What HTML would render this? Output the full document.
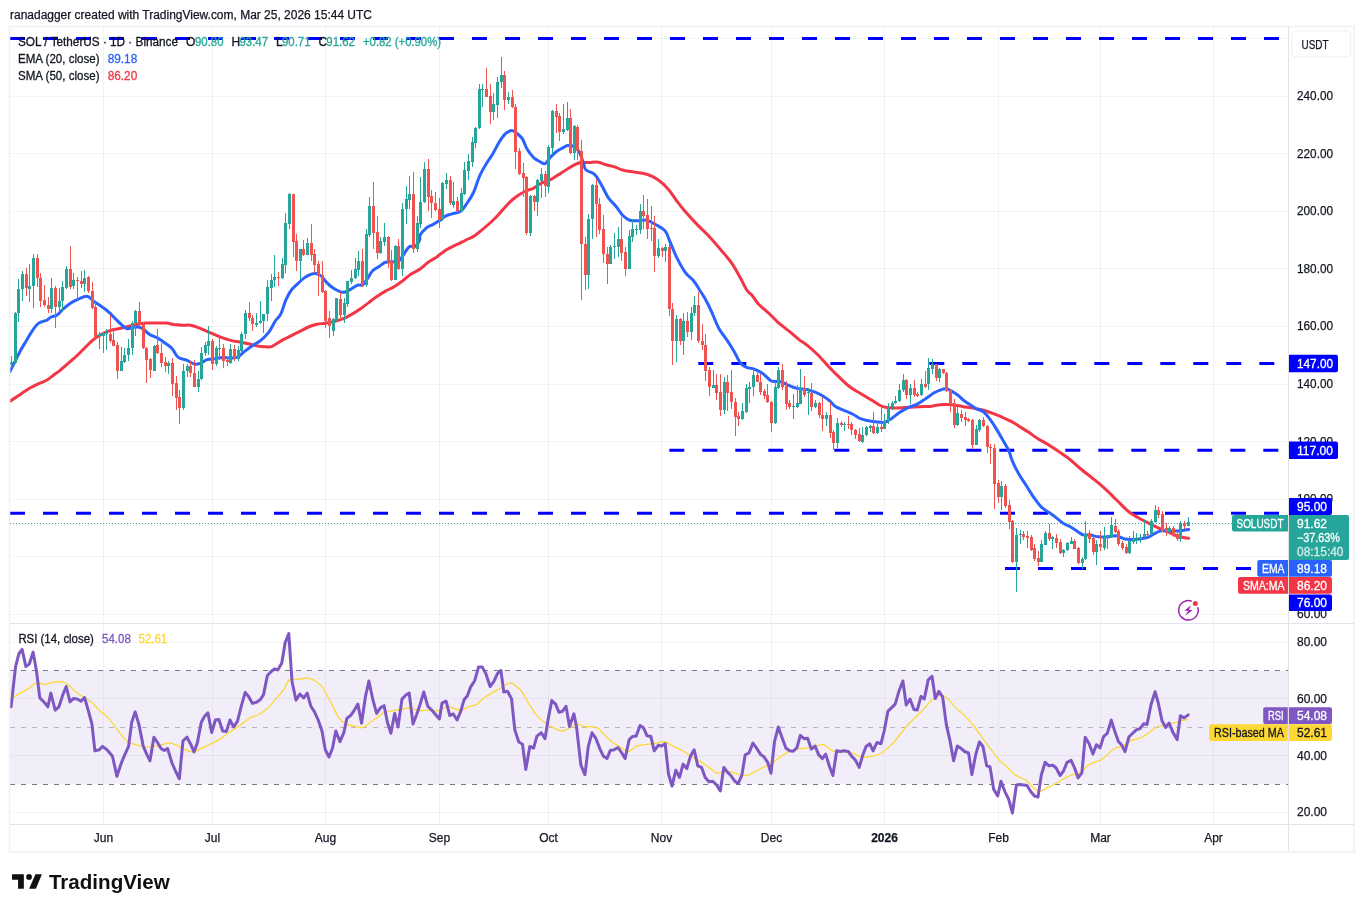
<!DOCTYPE html>
<html lang="en"><head><meta charset="utf-8"><title>SOLUSDT chart</title>
<style>
html,body{margin:0;padding:0;background:#fff;}
body{width:1364px;height:912px;overflow:hidden;font-family:"Liberation Sans", sans-serif;}
svg{display:block;position:absolute;left:0;top:0;}
svg text{font-family:"Liberation Sans", sans-serif;font-size:12px;fill:#131722;stroke:#131722;stroke-width:0.25px;}
.ax{font-size:12px;fill:#131722;}
.lb{font-size:12px;fill:#fff;}
</style></head><body>
<svg width="1364" height="912" viewBox="0 0 1364 912">

<rect x="0" y="0" width="1364" height="912" fill="#fff"/>
<text x="10" y="19" textLength="362" lengthAdjust="spacingAndGlyphs" style="font-size:12px">ranadagger created with TradingView.com, Mar 25, 2026 15:44 UTC</text>
<line x1="103.5" y1="27" x2="103.5" y2="824" stroke="#2a2e39" stroke-opacity="0.06" stroke-width="1"/>
<line x1="212.5" y1="27" x2="212.5" y2="824" stroke="#2a2e39" stroke-opacity="0.06" stroke-width="1"/>
<line x1="325.5" y1="27" x2="325.5" y2="824" stroke="#2a2e39" stroke-opacity="0.06" stroke-width="1"/>
<line x1="439.5" y1="27" x2="439.5" y2="824" stroke="#2a2e39" stroke-opacity="0.06" stroke-width="1"/>
<line x1="548.5" y1="27" x2="548.5" y2="824" stroke="#2a2e39" stroke-opacity="0.06" stroke-width="1"/>
<line x1="661.5" y1="27" x2="661.5" y2="824" stroke="#2a2e39" stroke-opacity="0.06" stroke-width="1"/>
<line x1="771.5" y1="27" x2="771.5" y2="824" stroke="#2a2e39" stroke-opacity="0.06" stroke-width="1"/>
<line x1="884.5" y1="27" x2="884.5" y2="824" stroke="#2a2e39" stroke-opacity="0.06" stroke-width="1"/>
<line x1="998.5" y1="27" x2="998.5" y2="824" stroke="#2a2e39" stroke-opacity="0.06" stroke-width="1"/>
<line x1="1100.5" y1="27" x2="1100.5" y2="824" stroke="#2a2e39" stroke-opacity="0.06" stroke-width="1"/>
<line x1="1213.5" y1="27" x2="1213.5" y2="824" stroke="#2a2e39" stroke-opacity="0.06" stroke-width="1"/>
<line x1="10" y1="614.5" x2="1289" y2="614.5" stroke="#2a2e39" stroke-opacity="0.06" stroke-width="1"/>
<line x1="10" y1="556.5" x2="1289" y2="556.5" stroke="#2a2e39" stroke-opacity="0.06" stroke-width="1"/>
<line x1="10" y1="499.5" x2="1289" y2="499.5" stroke="#2a2e39" stroke-opacity="0.06" stroke-width="1"/>
<line x1="10" y1="441.5" x2="1289" y2="441.5" stroke="#2a2e39" stroke-opacity="0.06" stroke-width="1"/>
<line x1="10" y1="384.5" x2="1289" y2="384.5" stroke="#2a2e39" stroke-opacity="0.06" stroke-width="1"/>
<line x1="10" y1="326.5" x2="1289" y2="326.5" stroke="#2a2e39" stroke-opacity="0.06" stroke-width="1"/>
<line x1="10" y1="268.5" x2="1289" y2="268.5" stroke="#2a2e39" stroke-opacity="0.06" stroke-width="1"/>
<line x1="10" y1="211.5" x2="1289" y2="211.5" stroke="#2a2e39" stroke-opacity="0.06" stroke-width="1"/>
<line x1="10" y1="153.5" x2="1289" y2="153.5" stroke="#2a2e39" stroke-opacity="0.06" stroke-width="1"/>
<line x1="10" y1="96.5" x2="1289" y2="96.5" stroke="#2a2e39" stroke-opacity="0.06" stroke-width="1"/>
<line x1="10" y1="38.5" x2="1289" y2="38.5" stroke="#2a2e39" stroke-opacity="0.06" stroke-width="1"/>
<line x1="10" y1="812.5" x2="1289" y2="812.5" stroke="#2a2e39" stroke-opacity="0.06" stroke-width="1"/>
<line x1="10" y1="755.5" x2="1289" y2="755.5" stroke="#2a2e39" stroke-opacity="0.06" stroke-width="1"/>
<line x1="10" y1="698.5" x2="1289" y2="698.5" stroke="#2a2e39" stroke-opacity="0.06" stroke-width="1"/>
<line x1="10" y1="642.5" x2="1289" y2="642.5" stroke="#2a2e39" stroke-opacity="0.06" stroke-width="1"/>
<rect x="10" y="670.5" width="1279" height="113.6" fill="#7e57c2" fill-opacity="0.1"/>
<defs><clipPath id="cm"><rect x="10" y="27" width="1279" height="596"/></clipPath><clipPath id="cr"><rect x="10" y="624" width="1279" height="200"/></clipPath><clipPath id="c70"><rect x="10" y="624" width="1279" height="46.5"/></clipPath><clipPath id="c30"><rect x="10" y="784.1" width="1279" height="39.9"/></clipPath><linearGradient id="gg" gradientUnits="userSpaceOnUse" x1="0" y1="585" x2="0" y2="670.5"><stop offset="0" stop-color="#4caf50" stop-opacity="0.45"/><stop offset="1" stop-color="#4caf50" stop-opacity="0"/></linearGradient><linearGradient id="gr" gradientUnits="userSpaceOnUse" x1="0" y1="784.5" x2="0" y2="870"><stop offset="0" stop-color="#ff5252" stop-opacity="0"/><stop offset="1" stop-color="#ff5252" stop-opacity="0.45"/></linearGradient></defs>
<g clip-path="url(#cm)">
<line x1="10" y1="38.5" x2="1289" y2="38.5" stroke="#0000ff" stroke-width="3" stroke-dasharray="15 18"/>
<line x1="698.3" y1="363.5" x2="1289" y2="363.5" stroke="#0000ff" stroke-width="3" stroke-dasharray="15 18"/>
<line x1="669.3" y1="450.3" x2="1289" y2="450.3" stroke="#0000ff" stroke-width="3" stroke-dasharray="15 18"/>
<line x1="10" y1="513.3" x2="1289" y2="513.3" stroke="#0000ff" stroke-width="3" stroke-dasharray="15 18"/>
<line x1="1005" y1="568.5" x2="1289" y2="568.5" stroke="#0000ff" stroke-width="3" stroke-dasharray="15 18"/>
<path d="M10.0 401.2C11.0 400.5 14.1 398.4 16.2 397.1C18.2 395.7 19.9 394.5 22.3 392.9C24.7 391.4 27.8 389.4 30.5 387.8C33.3 386.3 36.0 385.0 38.7 383.7C41.5 382.4 44.6 381.4 47.0 380.0C49.3 378.6 50.7 377.3 53.1 375.5C55.5 373.7 58.6 371.6 61.3 369.3C64.1 367.1 66.8 364.5 69.5 362.2C72.3 359.8 75.4 357.2 77.7 355.0C80.1 352.7 81.9 350.9 83.9 348.8C86.0 346.8 88.0 344.5 90.1 342.6C92.1 340.8 93.8 339.2 96.2 337.5C98.6 335.9 101.7 334.1 104.4 332.8C107.2 331.5 109.9 330.5 112.6 329.7C115.4 329.0 118.1 328.9 120.9 328.3C123.6 327.7 126.3 326.9 129.1 326.2C131.8 325.5 134.5 324.7 137.3 324.2C140.0 323.7 142.8 323.3 145.5 323.1C148.2 323.0 150.3 323.1 153.7 323.1C157.1 323.1 162.6 322.9 166.0 323.1C169.4 323.4 171.5 324.2 174.2 324.6C177.0 324.9 179.7 325.1 182.4 325.2C185.2 325.3 187.9 324.8 190.7 325.2C193.4 325.6 196.1 326.8 198.9 327.9C201.6 328.9 204.3 330.2 207.1 331.4C209.8 332.5 212.6 333.7 215.3 334.8C218.0 336.0 220.8 337.2 223.5 338.1C226.2 339.1 229.0 339.9 231.7 340.6C234.5 341.2 237.2 341.5 239.9 342.0C242.7 342.5 245.4 343.1 248.1 343.7C250.9 344.3 253.6 345.2 256.4 345.7C259.1 346.2 262.2 346.6 264.6 346.8C267.0 346.9 269.1 347.0 270.7 346.8C272.3 346.5 272.3 346.1 274.3 345.0C276.3 343.8 280.0 341.4 282.8 339.9C285.7 338.3 288.5 337.0 291.4 335.6C294.2 334.2 297.1 332.7 299.9 331.3C302.8 329.9 305.6 328.2 308.5 327.0C311.3 325.9 314.2 324.9 317.0 324.3C319.9 323.6 322.7 323.7 325.6 323.2C328.4 322.7 331.3 322.2 334.1 321.5C337.0 320.8 339.8 320.1 342.7 318.9C345.5 317.8 348.4 316.2 351.2 314.6C354.1 313.0 357.0 311.3 359.8 309.3C362.7 307.3 365.5 305.0 368.4 302.9C371.2 300.7 374.1 298.4 376.9 296.5C379.8 294.5 382.6 292.7 385.5 291.1C388.3 289.5 391.2 288.6 394.0 286.8C396.9 285.1 399.7 283.0 402.6 280.9C405.4 278.7 408.3 275.9 411.1 274.0C414.0 272.1 416.8 271.3 419.7 269.3C422.5 267.3 425.4 264.3 428.2 262.3C431.1 260.2 433.9 258.9 436.8 256.9C439.6 254.9 442.5 252.3 445.3 250.5C448.2 248.6 451.0 247.2 453.9 245.8C456.7 244.4 460.4 242.9 462.4 241.9C464.4 241.0 464.1 240.9 466.0 240.0C467.8 239.1 470.8 238.0 473.5 236.4C476.1 234.7 479.2 232.3 482.0 229.9C484.9 227.6 487.7 225.1 490.6 222.5C493.4 219.8 496.3 216.9 499.1 213.9C502.0 210.9 504.8 207.1 507.7 204.3C510.5 201.4 513.4 198.9 516.2 196.8C519.1 194.7 521.9 192.9 524.8 191.5C527.6 190.0 530.5 189.7 533.3 188.3C536.2 186.8 539.0 184.3 541.9 182.9C544.7 181.5 547.6 181.1 550.4 179.7C553.3 178.3 556.1 176.1 559.0 174.4C561.8 172.6 565.0 170.5 567.5 169.0C570.0 167.5 571.8 166.2 573.9 165.2C576.1 164.1 577.9 163.0 580.4 162.6C582.9 162.2 586.1 162.7 588.9 162.6C591.8 162.5 594.6 161.6 597.5 162.0C600.3 162.3 603.2 163.9 606.0 164.7C608.9 165.6 611.9 166.0 614.6 166.9C617.3 167.8 619.1 169.1 622.3 170.0C625.6 170.9 630.0 171.4 634.1 172.1C638.2 172.9 643.0 173.0 646.9 174.3C650.8 175.5 654.0 177.1 657.6 179.6C661.2 182.1 665.1 185.7 668.3 189.2C671.5 192.8 674.0 197.3 676.8 201.0C679.7 204.7 681.8 207.6 685.4 211.7C689.0 215.8 693.9 221.1 698.2 225.6C702.5 230.0 706.8 233.8 711.0 238.4C715.3 243.1 720.3 249.1 723.9 253.4C727.4 257.7 729.6 259.8 732.4 264.1C735.3 268.4 738.6 274.7 741.0 279.0C743.4 283.4 744.8 287.3 746.7 290.0C748.5 292.7 750.0 293.0 752.0 295.3C754.0 297.7 755.6 300.9 758.4 303.9C761.3 306.9 765.9 310.5 769.1 313.5C772.3 316.5 774.5 319.2 777.7 322.1C780.9 324.9 784.8 327.7 788.4 330.6C791.9 333.5 795.8 337.1 799.0 339.6C802.3 342.1 804.4 343.0 807.6 345.6C810.8 348.2 814.7 351.6 818.3 355.2C821.9 358.8 825.4 363.2 829.0 367.0C832.5 370.7 836.1 374.3 839.7 377.7C843.2 381.0 846.8 384.6 850.4 387.3C853.9 390.0 857.5 391.6 861.0 393.7C864.6 395.8 868.5 398.2 871.7 400.1C874.9 402.1 877.8 404.2 880.3 405.5C882.8 406.7 884.2 407.2 886.7 407.6C889.2 408.0 892.4 408.0 895.3 408.0C898.1 408.0 900.6 407.8 903.8 407.6C907.0 407.4 910.9 407.1 914.5 407.0C918.1 406.8 922.6 406.6 925.2 406.5C927.8 406.4 927.4 406.7 930.0 406.4C932.6 406.1 937.1 405.0 940.7 404.7C944.3 404.4 947.8 404.4 951.4 404.7C954.9 405.0 958.5 405.8 962.1 406.4C965.6 407.0 969.2 407.5 972.8 408.1C976.3 408.8 979.9 409.3 983.5 410.3C987.0 411.2 990.9 412.7 994.1 413.9C997.4 415.1 999.8 416.3 1002.7 417.5C1005.5 418.8 1008.4 419.8 1011.2 421.4C1014.1 422.9 1017.0 424.9 1019.8 426.7C1022.7 428.5 1025.5 430.2 1028.4 432.1C1031.2 434.0 1033.7 436.0 1036.9 438.1C1040.1 440.1 1044.0 442.0 1047.6 444.3C1051.2 446.5 1054.7 448.9 1058.3 451.3C1061.9 453.7 1065.4 456.0 1069.0 458.8C1072.5 461.6 1076.1 465.0 1079.7 468.0C1083.2 471.0 1086.8 473.7 1090.4 476.5C1093.9 479.4 1097.5 482.0 1101.0 485.1C1104.6 488.2 1108.5 492.0 1111.7 495.1C1114.9 498.2 1117.4 500.9 1120.3 503.7C1123.1 506.5 1126.0 509.6 1128.8 511.8C1131.7 514.1 1134.5 515.5 1137.4 517.2C1140.2 518.8 1143.1 520.4 1146.0 521.9C1148.8 523.4 1151.7 524.8 1154.5 526.1C1157.4 527.5 1160.2 528.5 1163.1 529.8C1165.9 531.0 1168.8 532.5 1171.6 533.6C1174.5 534.8 1177.3 536.1 1180.2 536.8C1183.0 537.6 1187.3 538.1 1188.7 538.3" stroke="#f23645" stroke-width="3" fill="none" stroke-linejoin="round" stroke-linecap="round"/>
<path d="M10.0 371.4C10.7 370.0 12.4 366.6 14.1 363.2C15.8 359.8 18.2 354.6 20.3 350.9C22.3 347.1 24.4 344.0 26.4 340.6C28.5 337.2 30.5 333.2 32.6 330.3C34.6 327.4 36.3 324.9 38.7 323.1C41.1 321.4 44.9 321.1 47.0 320.1C49.0 319.0 49.3 317.8 51.1 317.0C52.8 316.1 55.2 316.3 57.2 314.9C59.3 313.6 61.0 310.8 63.4 308.8C65.8 306.7 68.9 304.3 71.6 302.6C74.3 300.9 77.6 299.5 79.8 298.5C82.0 297.5 83.4 296.7 84.9 296.5C86.5 296.2 87.5 296.2 89.0 297.1C90.6 297.9 92.3 300.2 94.2 301.6C96.1 303.0 97.9 304.0 100.3 305.7C102.7 307.4 106.1 309.8 108.5 311.9C110.9 313.9 112.6 316.0 114.7 318.0C116.8 320.1 118.8 322.4 120.9 324.2C122.9 326.0 125.0 328.2 127.0 328.7C129.1 329.2 131.1 327.5 133.2 327.3C135.2 327.0 137.6 326.9 139.3 327.3C141.0 327.6 141.7 328.1 143.4 329.3C145.2 330.5 147.2 333.0 149.6 334.4C152.0 335.9 155.1 336.6 157.8 338.1C160.6 339.7 163.6 341.9 166.0 343.7C168.4 345.5 170.1 346.5 172.2 348.8C174.2 351.1 175.9 355.5 178.3 357.4C180.7 359.3 183.8 359.0 186.6 360.1C189.3 361.2 192.4 363.7 194.8 364.2C197.2 364.7 198.9 363.9 200.9 363.2C203.0 362.4 204.7 360.5 207.1 359.7C209.5 358.9 212.6 358.8 215.3 358.5C218.0 358.1 220.8 357.7 223.5 357.6C226.2 357.6 229.3 358.1 231.7 358.0C234.1 357.9 235.8 358.0 237.9 357.0C239.9 356.0 241.6 353.8 244.0 351.9C246.4 350.0 249.5 347.6 252.3 345.7C255.0 343.8 257.7 342.8 260.5 340.6C263.2 338.4 266.2 335.6 268.7 332.4C271.2 329.1 273.3 324.1 275.3 321.0C277.3 318.0 278.9 317.8 280.7 314.2C282.5 310.6 284.3 303.7 286.0 299.7C287.8 295.6 289.4 292.7 291.4 290.0C293.3 287.4 295.7 285.7 297.8 283.6C299.9 281.6 302.1 279.4 304.2 277.9C306.3 276.3 308.7 275.2 310.6 274.4C312.6 273.7 314.2 273.3 316.0 273.6C317.8 273.9 319.5 274.7 321.3 276.1C323.1 277.6 324.7 280.6 326.7 282.6C328.6 284.5 330.8 286.4 333.1 287.9C335.4 289.4 338.6 291.0 340.6 291.8C342.5 292.5 343.1 292.6 344.8 292.2C346.6 291.7 349.1 290.2 351.2 289.0C353.4 287.8 355.7 285.8 357.7 285.1C359.6 284.4 361.2 286.0 363.0 284.7C364.8 283.4 366.8 279.5 368.4 277.2C370.0 274.9 370.8 272.6 372.6 270.8C374.4 269.0 376.9 268.0 379.0 266.5C381.2 265.1 383.3 263.0 385.5 262.3C387.6 261.5 389.7 262.0 391.9 261.8C394.0 261.6 396.3 262.4 398.3 261.2C400.2 260.0 401.9 257.2 403.6 254.8C405.4 252.4 407.0 248.3 409.0 246.9C410.9 245.4 413.6 247.4 415.4 246.2C417.2 245.0 418.9 241.6 419.7 239.8C420.4 238.0 418.9 237.3 420.0 235.3C421.1 233.3 424.3 229.6 426.4 227.8C428.6 226.0 430.7 225.8 432.8 224.6C435.0 223.4 437.1 222.2 439.2 220.8C441.4 219.3 443.5 217.2 445.7 216.0C447.8 214.9 449.6 214.7 452.1 213.9C454.6 213.1 458.1 213.1 460.6 211.3C463.1 209.6 464.9 206.4 467.0 203.2C469.2 200.1 471.3 197.2 473.5 192.5C475.6 187.9 477.7 180.2 479.9 175.4C482.0 170.6 484.1 167.2 486.3 163.7C488.4 160.1 490.6 157.6 492.7 154.0C494.8 150.5 497.0 145.7 499.1 142.3C501.2 138.9 503.4 135.7 505.5 133.7C507.7 131.8 510.0 130.5 511.9 130.5C513.9 130.5 515.5 132.3 517.3 133.7C519.1 135.2 521.0 136.6 522.6 139.1C524.2 141.6 525.1 145.7 526.9 148.7C528.7 151.7 531.2 155.1 533.3 157.3C535.5 159.4 537.8 160.5 539.7 161.5C541.7 162.6 543.3 164.4 545.1 163.7C546.9 163.0 548.5 159.3 550.4 157.3C552.4 155.2 554.7 152.9 556.8 151.3C559.0 149.7 561.5 148.6 563.3 147.6C565.0 146.7 565.7 145.7 567.5 145.5C569.3 145.3 572.0 145.5 573.9 146.6C575.9 147.6 577.7 149.1 579.3 151.9C580.9 154.8 582.5 160.7 583.6 163.7C584.7 166.7 584.1 168.2 586.0 170.0C587.8 171.8 592.0 172.0 594.5 174.3C597.0 176.6 598.6 180.0 600.9 183.9C603.3 187.8 605.9 194.1 608.4 197.8C610.9 201.5 613.4 203.3 615.9 206.3C618.4 209.4 621.1 213.7 623.4 216.0C625.7 218.3 627.3 219.5 629.8 220.2C632.3 221.0 635.5 220.7 638.4 220.7C641.2 220.7 644.1 219.6 646.9 220.2C649.8 220.9 652.4 222.7 655.5 224.5C658.5 226.3 662.6 227.9 665.1 230.9C667.6 234.0 668.5 238.2 670.4 242.7C672.4 247.2 674.3 252.7 676.8 257.7C679.3 262.7 682.5 268.7 685.4 272.6C688.2 276.5 691.6 278.3 693.9 281.2C696.3 284.1 697.8 287.1 699.6 290.0C701.5 292.9 703.0 295.0 705.0 298.6C706.9 302.1 709.1 306.4 711.4 311.4C713.7 316.4 716.4 323.9 718.9 328.5C721.4 333.1 723.9 335.4 726.3 339.2C728.8 342.9 731.5 347.0 733.8 350.9C736.1 354.9 738.1 360.0 740.2 362.7C742.4 365.4 744.3 366.3 746.7 367.4C749.0 368.5 751.5 368.1 754.1 369.1C756.8 370.1 759.8 371.4 762.7 373.4C765.5 375.3 768.4 379.5 771.2 380.9C774.1 382.2 777.0 380.8 779.8 381.5C782.7 382.2 785.5 384.0 788.4 385.1C791.2 386.3 793.9 387.6 796.9 388.4C799.9 389.1 803.5 388.8 806.5 389.4C809.6 390.1 812.2 391.0 815.1 392.2C817.9 393.4 821.1 395.0 823.6 396.5C826.1 398.0 828.1 399.5 830.0 401.2C832.0 402.9 833.1 405.0 835.4 406.5C837.7 408.1 841.1 409.1 843.9 410.4C846.8 411.6 849.6 412.6 852.5 414.0C855.3 415.4 858.2 417.8 861.0 418.9C863.9 420.1 866.8 420.3 869.6 420.9C872.5 421.4 875.7 421.9 878.2 422.1C880.6 422.3 882.4 422.7 884.6 422.1C886.7 421.6 888.5 420.5 891.0 418.9C893.5 417.3 896.7 414.4 899.5 412.5C902.4 410.6 905.2 409.0 908.1 407.6C910.9 406.2 913.8 405.8 916.6 404.4C919.5 403.0 922.3 400.9 925.2 399.0C928.0 397.2 931.3 394.6 933.7 393.1C936.2 391.6 938.2 390.8 940.2 390.1C942.1 389.4 943.9 388.8 945.5 388.8C947.1 388.8 947.8 389.1 949.8 390.1C951.7 391.1 955.0 393.1 957.3 394.8C959.5 396.4 961.1 398.4 963.1 400.0C965.2 401.6 967.4 402.9 969.6 404.3C971.7 405.7 973.7 407.3 976.0 408.6C978.3 409.8 981.1 410.0 983.5 411.8C985.8 413.5 987.7 416.4 989.9 419.2C992.0 422.1 994.0 425.1 996.3 428.9C998.6 432.6 1001.6 438.0 1003.8 441.7C1005.9 445.4 1007.7 448.1 1009.1 451.3C1010.5 454.5 1010.7 457.2 1012.3 460.9C1013.9 464.7 1016.4 469.7 1018.7 473.8C1021.0 477.9 1023.7 481.6 1026.2 485.5C1028.7 489.4 1031.2 493.7 1033.7 497.3C1036.2 500.8 1038.7 504.4 1041.2 506.9C1043.7 509.4 1046.2 510.5 1048.7 512.3C1051.2 514.0 1053.7 515.7 1056.1 517.6C1058.6 519.5 1061.1 522.0 1063.6 523.6C1066.1 525.2 1068.8 525.9 1071.1 527.2C1073.4 528.5 1075.6 530.2 1077.5 531.5C1079.5 532.7 1080.7 534.1 1082.9 534.7C1085.0 535.3 1087.7 534.8 1090.4 535.1C1093.0 535.5 1096.1 536.6 1098.9 536.8C1101.8 537.1 1104.6 537.0 1107.5 536.8C1110.3 536.7 1113.2 535.4 1116.0 535.8C1118.9 536.1 1121.7 538.4 1124.6 539.0C1127.4 539.6 1130.3 539.5 1133.1 539.4C1136.0 539.3 1139.2 538.9 1141.7 538.6C1144.2 538.2 1146.0 538.1 1148.1 537.3C1150.2 536.4 1152.4 534.7 1154.5 533.6C1156.6 532.6 1158.8 531.3 1160.9 530.9C1163.1 530.4 1164.8 530.9 1167.3 530.9C1169.8 530.9 1173.4 530.9 1175.9 530.9C1178.4 530.8 1180.2 530.7 1182.3 530.4C1184.4 530.2 1187.6 529.5 1188.7 529.4" stroke="#2962ff" stroke-width="3" fill="none" stroke-linejoin="round" stroke-linecap="round"/>
<path d="M11.5 356V368M15.5 312V364M18.5 279V322M22.5 271V301M29.5 264V302M33.5 254V308M51.5 278V313M59.5 288V312M62.5 281V311M66.5 266V289M73.5 273V289M84.5 270V292M99.5 332V349M103.5 332V353M106.5 329V350M121.5 347V371M124.5 348V363M128.5 339V361M132.5 321V355M135.5 310V336M154.5 345V371M168.5 361V374M183.5 364V410M187.5 364V377M198.5 371V392M201.5 347V380M205.5 342V356M208.5 326V355M216.5 346V366M219.5 336V360M230.5 344V364M238.5 346V361M241.5 332V353M245.5 310V339M256.5 313V327M260.5 301V324M263.5 314V333M267.5 280V321M271.5 274V301M274.5 255V287M282.5 258V279M285.5 213V273M289.5 193V229M300.5 249V280M307.5 238V255M333.5 318V336M336.5 298V321M344.5 298V323M347.5 281V307M351.5 270V284M355.5 258V279M358.5 251V276M366.5 229V287M369.5 197V237M380.5 237V254M384.5 223V246M395.5 245V280M402.5 203V276M406.5 186V224M409.5 176V209M417.5 216V252M420.5 177V228M424.5 162V203M442.5 182V221M446.5 173V189M453.5 182V208M461.5 188V212M464.5 162V195M468.5 154V180M472.5 137V167M475.5 127V148M479.5 84V129M482.5 84V107M493.5 93V120M497.5 77V118M501.5 57V88M508.5 92V104M530.5 195V236M537.5 179V216M541.5 168V198M548.5 145V193M552.5 110V154M563.5 104V134M567.5 102V131M574.5 125V160M588.5 214V289M592.5 184V239M610.5 245V264M614.5 233V259M618.5 227V257M629.5 230V269M632.5 219V242M636.5 225V235M640.5 204V234M658.5 239V258M665.5 244V262M676.5 315V362M683.5 313V355M691.5 307V340M694.5 296V316M713.5 370V388M724.5 377V414M742.5 403V420M746.5 384V413M749.5 382V403M753.5 369V396M775.5 381V424M778.5 367V389M793.5 394V419M797.5 385V408M800.5 369V404M808.5 388V415M815.5 400V408M826.5 412V426M837.5 418V448M844.5 422V431M862.5 427V443M866.5 426V436M870.5 425V432M877.5 422V434M884.5 414V429M888.5 403V424M892.5 401V410M895.5 396V404M899.5 384V402M903.5 374V392M910.5 384V404M921.5 379V396M928.5 358V390M932.5 359V374M939.5 368V382M957.5 407V426M976.5 425V445M979.5 419V432M1001.5 481V510M1016.5 528V592M1020.5 530V544M1041.5 540V562M1045.5 531V545M1052.5 536V549M1063.5 549V557M1067.5 542V551M1071.5 537V544M1082.5 557V569M1085.5 521V560M1096.5 540V565M1104.5 527V550M1107.5 535V549M1111.5 517V538M1129.5 536V554M1133.5 531V544M1136.5 533V544M1140.5 534V543M1144.5 520V538M1151.5 519V535M1155.5 505V523M1169.5 526V534M1180.5 521V542M1188.5 517V526" stroke="#26a69a" stroke-width="1" fill="none"/>
<path d="M26.5 268V296M37.5 254V287M40.5 273V307M44.5 285V307M48.5 297V313M55.5 286V328M70.5 246V289M77.5 277V300M81.5 271V288M88.5 276V293M92.5 282V309M95.5 302V339M110.5 315V343M113.5 330V346M117.5 342V379M139.5 302V326M143.5 322V349M146.5 347V383M150.5 358V378M157.5 329V354M161.5 343V367M165.5 357V372M172.5 358V396M176.5 376V410M179.5 390V424M190.5 361V377M194.5 360V387M212.5 339V370M223.5 344V368M227.5 357V366M234.5 345V361M249.5 302V321M252.5 315V331M278.5 272V286M293.5 194V257M296.5 234V271M303.5 240V256M311.5 224V261M314.5 249V273M318.5 261V296M322.5 261V293M325.5 290V328M329.5 311V338M340.5 292V321M362.5 249V287M373.5 182V249M377.5 216V259M388.5 236V268M391.5 250V281M398.5 239V270M413.5 172V253M428.5 159V211M431.5 190V218M435.5 192V211M439.5 198V228M450.5 176V205M457.5 197V213M486.5 68V97M490.5 84V124M504.5 71V110M512.5 90V108M515.5 104V169M519.5 148V175M523.5 163V197M526.5 176V235M534.5 195V211M545.5 171V197M556.5 104V133M559.5 113V141M570.5 109V154M577.5 125V160M581.5 140V300M585.5 237V290M596.5 179V237M599.5 198V234M603.5 215V263M607.5 247V284M621.5 217V261M625.5 247V276M643.5 195V229M647.5 199V239M651.5 206V241M654.5 216V272M662.5 247V257M669.5 243V316M672.5 303V365M680.5 318V345M687.5 312V337M698.5 292V343M702.5 324V350M705.5 334V381M709.5 367V396M716.5 374V400M720.5 374V416M727.5 375V411M731.5 370V409M735.5 398V436M738.5 412V426M757.5 371V382M760.5 374V395M764.5 389V399M767.5 384V403M771.5 401V432M782.5 364V390M786.5 381V410M789.5 400V409M804.5 376V397M811.5 383V411M819.5 402V418M822.5 397V431M830.5 402V438M833.5 430V450M841.5 421V427M848.5 416V429M851.5 422V435M855.5 429V439M859.5 428V442M873.5 412V434M881.5 407V432M906.5 379V399M914.5 380V397M917.5 392V397M925.5 371V388M936.5 364V381M943.5 369V374M946.5 372V392M950.5 389V412M954.5 399V428M961.5 410V422M965.5 412V426M968.5 418V422M972.5 419V449M983.5 417V427M987.5 425V453M990.5 444V464M994.5 444V509M998.5 480V503M1005.5 484V508M1009.5 500V529M1012.5 520V563M1023.5 531V540M1027.5 531V548M1031.5 535V551M1034.5 544V561M1038.5 551V566M1049.5 524V541M1056.5 534V548M1060.5 539V554M1074.5 539V549M1078.5 547V564M1089.5 530V543M1093.5 537V555M1100.5 531V551M1115.5 519V533M1118.5 529V546M1122.5 541V550M1126.5 544V554M1147.5 531V537M1158.5 507V518M1162.5 511V532M1166.5 523V536M1173.5 526V537M1177.5 531V541M1184.5 521V529" stroke="#ef5350" stroke-width="1" fill="none"/>
<path d="M10 362h3V365h-3ZM14 313h3V363h-3ZM17 289h3V313h-3ZM21 274h3V289h-3ZM28 286h3V289h-3ZM32 258h3V286h-3ZM50 288h3V309h-3ZM58 301h3V307h-3ZM61 287h3V301h-3ZM65 269h3V288h-3ZM72 280h3V286h-3ZM83 278h3V284h-3ZM98 334h3V336h-3ZM102 333h3V336h-3ZM105 333h3V334h-3ZM120 361h3V371h-3ZM123 355h3V362h-3ZM127 348h3V355h-3ZM131 323h3V348h-3ZM134 311h3V323h-3ZM153 346h3V371h-3ZM167 363h3V366h-3ZM182 371h3V408h-3ZM186 366h3V371h-3ZM197 379h3V387h-3ZM200 353h3V379h-3ZM204 345h3V353h-3ZM207 341h3V346h-3ZM215 348h3V364h-3ZM218 348h3V349h-3ZM229 349h3V363h-3ZM237 350h3V359h-3ZM240 334h3V351h-3ZM244 313h3V334h-3ZM255 323h3V325h-3ZM259 321h3V323h-3ZM262 314h3V321h-3ZM266 287h3V314h-3ZM270 280h3V288h-3ZM273 277h3V280h-3ZM281 264h3V278h-3ZM284 223h3V265h-3ZM288 194h3V224h-3ZM299 249h3V261h-3ZM306 243h3V255h-3ZM332 319h3V331h-3ZM335 298h3V320h-3ZM343 303h3V315h-3ZM346 281h3V304h-3ZM350 278h3V282h-3ZM354 269h3V278h-3ZM357 261h3V270h-3ZM365 234h3V285h-3ZM368 206h3V235h-3ZM379 241h3V253h-3ZM383 237h3V242h-3ZM394 246h3V280h-3ZM401 209h3V269h-3ZM405 199h3V209h-3ZM408 194h3V200h-3ZM416 223h3V249h-3ZM419 202h3V224h-3ZM423 169h3V202h-3ZM441 183h3V219h-3ZM445 180h3V184h-3ZM452 201h3V205h-3ZM460 193h3V211h-3ZM463 170h3V194h-3ZM467 161h3V171h-3ZM471 142h3V162h-3ZM474 128h3V143h-3ZM478 89h3V128h-3ZM481 89h3V90h-3ZM492 104h3V112h-3ZM496 82h3V105h-3ZM500 75h3V82h-3ZM507 97h3V100h-3ZM529 196h3V233h-3ZM536 180h3V202h-3ZM540 174h3V181h-3ZM547 147h3V187h-3ZM551 111h3V148h-3ZM562 129h3V132h-3ZM566 118h3V130h-3ZM573 126h3V153h-3ZM587 219h3V275h-3ZM591 185h3V219h-3ZM609 247h3V264h-3ZM613 246h3V247h-3ZM617 239h3V247h-3ZM628 236h3V269h-3ZM631 229h3V237h-3ZM635 229h3V230h-3ZM639 211h3V230h-3ZM657 248h3V256h-3ZM664 247h3V251h-3ZM675 319h3V341h-3ZM682 321h3V341h-3ZM690 313h3V332h-3ZM693 305h3V313h-3ZM712 385h3V388h-3ZM723 382h3V410h-3ZM741 411h3V419h-3ZM745 388h3V412h-3ZM748 387h3V389h-3ZM752 375h3V387h-3ZM774 387h3V423h-3ZM777 370h3V388h-3ZM792 406h3V407h-3ZM796 403h3V407h-3ZM799 388h3V404h-3ZM807 392h3V393h-3ZM814 403h3V407h-3ZM825 415h3V419h-3ZM836 423h3V443h-3ZM843 424h3V425h-3ZM861 435h3V442h-3ZM865 427h3V435h-3ZM869 426h3V428h-3ZM876 427h3V433h-3ZM883 421h3V429h-3ZM887 407h3V421h-3ZM891 403h3V407h-3ZM894 401h3V403h-3ZM898 390h3V401h-3ZM902 380h3V390h-3ZM909 388h3V395h-3ZM920 384h3V395h-3ZM927 368h3V384h-3ZM931 364h3V369h-3ZM938 369h3V378h-3ZM956 413h3V425h-3ZM975 429h3V445h-3ZM978 420h3V430h-3ZM1000 486h3V497h-3ZM1015 535h3V562h-3ZM1019 534h3V535h-3ZM1040 544h3V562h-3ZM1044 533h3V545h-3ZM1051 537h3V539h-3ZM1062 550h3V553h-3ZM1066 543h3V550h-3ZM1070 541h3V544h-3ZM1081 559h3V563h-3ZM1084 534h3V559h-3ZM1095 544h3V552h-3ZM1103 537h3V548h-3ZM1106 536h3V537h-3ZM1110 525h3V537h-3ZM1128 541h3V553h-3ZM1132 539h3V542h-3ZM1135 538h3V539h-3ZM1139 537h3V539h-3ZM1143 534h3V537h-3ZM1150 521h3V534h-3ZM1154 510h3V522h-3ZM1168 528h3V532h-3ZM1179 523h3V539h-3ZM1187 522h3V526h-3Z" fill="#26a69a"/>
<path d="M25 274h3V288h-3ZM36 258h3V278h-3ZM39 278h3V301h-3ZM43 300h3V305h-3ZM47 305h3V309h-3ZM54 288h3V307h-3ZM69 269h3V287h-3ZM76 280h3V281h-3ZM80 281h3V284h-3ZM87 277h3V291h-3ZM91 291h3V308h-3ZM94 307h3V338h-3ZM109 334h3V341h-3ZM112 340h3V346h-3ZM116 345h3V371h-3ZM138 311h3V324h-3ZM142 324h3V348h-3ZM145 348h3V360h-3ZM149 359h3V370h-3ZM156 345h3V353h-3ZM160 353h3V363h-3ZM164 362h3V366h-3ZM171 363h3V384h-3ZM175 383h3V398h-3ZM178 397h3V408h-3ZM189 366h3V373h-3ZM193 373h3V387h-3ZM211 341h3V364h-3ZM222 348h3V361h-3ZM226 360h3V362h-3ZM233 349h3V359h-3ZM248 313h3V318h-3ZM251 318h3V324h-3ZM277 277h3V278h-3ZM292 194h3V242h-3ZM295 241h3V261h-3ZM302 249h3V255h-3ZM310 243h3V255h-3ZM313 254h3V265h-3ZM317 264h3V276h-3ZM321 275h3V292h-3ZM324 291h3V321h-3ZM328 318h3V326h-3ZM339 299h3V315h-3ZM361 261h3V285h-3ZM372 206h3V233h-3ZM376 232h3V253h-3ZM387 237h3V262h-3ZM390 261h3V280h-3ZM397 246h3V269h-3ZM412 194h3V249h-3ZM427 169h3V197h-3ZM430 196h3V203h-3ZM434 203h3V210h-3ZM438 209h3V220h-3ZM449 180h3V203h-3ZM456 201h3V211h-3ZM485 89h3V97h-3ZM489 96h3V112h-3ZM503 75h3V100h-3ZM511 97h3V107h-3ZM514 107h3V152h-3ZM518 151h3V174h-3ZM522 173h3V178h-3ZM525 177h3V233h-3ZM533 196h3V202h-3ZM544 174h3V186h-3ZM555 111h3V117h-3ZM558 116h3V132h-3ZM569 118h3V153h-3ZM576 127h3V151h-3ZM580 151h3V244h-3ZM584 244h3V275h-3ZM595 185h3V204h-3ZM598 204h3V230h-3ZM602 229h3V254h-3ZM606 254h3V264h-3ZM620 239h3V253h-3ZM624 252h3V269h-3ZM642 211h3V216h-3ZM646 215h3V229h-3ZM650 228h3V229h-3ZM653 228h3V256h-3ZM661 248h3V251h-3ZM668 247h3V309h-3ZM671 309h3V341h-3ZM679 319h3V341h-3ZM686 321h3V332h-3ZM697 305h3V341h-3ZM701 341h3V345h-3ZM704 345h3V371h-3ZM708 370h3V387h-3ZM715 385h3V393h-3ZM719 392h3V410h-3ZM726 382h3V393h-3ZM730 392h3V402h-3ZM734 402h3V417h-3ZM737 416h3V419h-3ZM756 375h3V382h-3ZM759 382h3V392h-3ZM763 391h3V396h-3ZM766 395h3V402h-3ZM770 402h3V423h-3ZM781 370h3V387h-3ZM785 386h3V404h-3ZM788 403h3V407h-3ZM803 388h3V395h-3ZM810 393h3V407h-3ZM818 403h3V415h-3ZM821 415h3V419h-3ZM829 415h3V433h-3ZM832 432h3V443h-3ZM840 423h3V425h-3ZM847 424h3V425h-3ZM850 424h3V430h-3ZM854 430h3V435h-3ZM858 434h3V441h-3ZM872 426h3V433h-3ZM880 427h3V429h-3ZM905 380h3V395h-3ZM913 388h3V395h-3ZM916 394h3V396h-3ZM924 384h3V387h-3ZM935 364h3V378h-3ZM942 369h3V373h-3ZM945 373h3V391h-3ZM949 390h3V404h-3ZM953 403h3V425h-3ZM960 414h3V418h-3ZM964 417h3V420h-3ZM967 419h3V421h-3ZM971 420h3V445h-3ZM982 420h3V426h-3ZM986 426h3V447h-3ZM989 447h3V448h-3ZM993 448h3V484h-3ZM997 483h3V497h-3ZM1004 486h3V506h-3ZM1008 505h3V522h-3ZM1011 521h3V562h-3ZM1022 534h3V537h-3ZM1026 536h3V538h-3ZM1030 537h3V550h-3ZM1033 548h3V559h-3ZM1037 558h3V562h-3ZM1048 533h3V539h-3ZM1055 538h3V543h-3ZM1059 542h3V553h-3ZM1073 541h3V549h-3ZM1077 548h3V563h-3ZM1088 533h3V539h-3ZM1092 538h3V552h-3ZM1099 544h3V547h-3ZM1114 526h3V532h-3ZM1117 531h3V544h-3ZM1121 543h3V548h-3ZM1125 547h3V553h-3ZM1146 534h3V535h-3ZM1157 510h3V515h-3ZM1161 514h3V531h-3ZM1165 528h3V533h-3ZM1172 528h3V535h-3ZM1176 534h3V539h-3ZM1183 523h3V526h-3Z" fill="#ef5350"/>
<line x1="10" y1="523.5" x2="1289" y2="523.5" stroke="#26a69a" stroke-width="1" stroke-dasharray="1 2"/>
</g>
<g clip-path="url(#cr)">
<g clip-path="url(#c70)"><path d="M11.1 706.8L15.5 667.1L18.8 653.9L22.1 649.4L25.9 666.6L29.4 663.8L33.1 652.1L36.4 670.4L39.8 697.9L44.2 702.3L47.9 706.8L50.8 693.1L55.2 710.1L58.9 706.8L62.9 694.6L66.2 686.5L70.0 701.9L73.5 698.4L77.2 699.0L81.0 701.2L84.5 697.5L88.2 710.1L92.0 724.4L94.9 750.8L99.3 749.7L102.6 746.4L107.0 749.7L112.5 756.3L116.9 776.2L121.3 763.0L124.6 755.2L128.6 746.4L131.7 722.2L135.2 711.8L138.9 724.4L143.3 746.4L146.7 754.1L150.0 760.8L153.9 737.2L157.2 742.0L161.0 748.6L164.3 750.4L167.6 748.6L172.0 763.0L175.3 770.7L179.3 778.8L183.0 740.9L187.0 737.2L190.7 744.2L194.0 751.9L197.3 743.1L201.3 722.2L204.6 716.2L207.9 712.9L211.7 732.5L215.4 720.0L218.9 719.5L222.7 731.0L226.4 731.4L230.0 720.0L233.7 727.0L237.5 721.1L241.4 705.7L245.2 692.4L248.7 696.8L252.5 703.4L256.4 702.3L260.2 699.7L263.5 694.6L267.4 675.5L271.2 671.5L274.5 668.8L277.8 669.9L281.8 663.1L285.1 642.8L288.8 633.6L292.1 682.5L292.2 682.5L296.0 700.1L299.9 694.0L303.7 697.9L307.2 693.1L310.9 706.3L314.7 712.3L318.2 720.0L322.0 731.0L325.3 749.7L329.0 757.0L332.5 748.2L335.8 731.0L340.0 741.6L344.0 732.1L346.9 718.2L350.6 715.6L354.4 710.1L357.9 704.1L361.6 723.3L365.4 696.8L368.9 681.0L372.7 699.0L376.6 713.4L380.4 707.9L384.1 705.7L387.4 722.2L390.9 733.2L394.7 713.4L398.0 727.0L402.0 699.0L405.7 695.3L409.2 693.1L413.0 723.9L416.7 714.5L420.0 704.6L423.8 692.0L427.8 706.3L431.7 710.1L435.5 714.5L439.4 718.9L442.1 702.8L446.1 701.2L449.8 715.6L453.1 713.8L457.1 720.0L460.8 711.2L464.1 699.7L467.4 695.7L470.7 686.9L474.7 680.7L478.5 667.1L482.2 667.1L485.7 673.3L490.1 686.5L493.9 681.4L497.6 673.3L500.9 670.4L503.8 692.0L507.5 691.3L511.5 698.6L514.8 729.9L518.8 742.0L522.5 744.2L525.8 769.6L529.8 746.4L533.6 748.2L536.9 736.1L541.3 732.8L545.0 738.7L548.3 718.2L551.8 700.6L555.6 704.1L558.9 712.3L562.6 711.2L566.0 706.3L569.5 726.6L573.9 713.8L576.5 726.6L580.9 765.2L584.9 774.6L585.0 774.6L588.3 746.4L592.0 732.8L596.0 738.7L599.8 748.6L603.5 756.3L607.0 758.6L610.3 750.4L614.1 749.7L618.0 747.5L621.8 753.0L625.1 758.6L629.1 739.8L632.4 736.5L636.1 736.1L640.1 725.5L643.4 727.7L647.1 735.8L650.9 736.5L654.2 750.8L658.2 745.3L661.5 746.0L665.2 743.8L668.5 774.0L672.0 786.1L675.8 770.2L679.5 777.3L683.1 764.1L686.8 768.5L690.6 755.9L694.1 749.7L697.8 765.8L701.6 767.4L705.1 777.3L708.9 781.7L712.8 781.3L716.6 785.0L720.3 791.0L723.8 767.4L727.6 772.4L730.9 775.5L734.9 781.3L738.2 783.5L741.9 775.1L745.2 754.8L749.0 753.0L752.9 743.1L756.9 748.6L760.7 754.6L764.0 756.8L767.7 762.3L771.0 773.3L774.5 741.6L778.3 727.0L782.0 737.6L786.0 748.2L789.7 750.8L793.3 751.3L797.0 747.5L800.3 735.4L804.1 738.7L807.6 738.3L811.3 749.1L815.1 746.0L818.6 754.6L822.4 758.6L825.7 754.1L829.4 766.3L832.9 775.5L836.7 750.8L840.4 751.5L844.0 750.8L848.2 751.5L851.7 756.3L855.4 760.1L859.2 767.4L862.7 755.2L866.1 746.4L869.8 743.8L873.1 750.8L876.9 742.5L880.9 743.8L884.2 731.0L887.9 711.2L891.4 707.9L895.2 704.1L898.9 691.3L902.9 681.0L906.2 705.0L910.0 699.0L913.9 709.6L917.2 710.1L921.0 696.4L924.3 699.0L928.2 679.9L932.0 676.3L935.3 698.6L938.8 691.3L942.6 696.8L946.3 724.4L949.8 739.8L953.6 760.8L957.3 746.0L961.3 748.6L964.6 751.5L968.6 753.0L971.9 774.6L975.6 755.2L979.4 742.0L982.9 746.4L986.7 765.8L990.0 766.7L993.7 789.4L997.7 796.0L1001.0 781.3L1004.9 791.6L1008.7 799.3L1012.4 813.0L1016.4 785.0L1019.7 784.6L1023.5 785.0L1027.0 785.4L1030.7 791.6L1034.5 796.0L1038.0 797.1L1041.3 775.1L1045.1 762.3L1049.0 765.8L1052.8 765.2L1056.1 768.0L1060.1 775.5L1063.4 771.3L1067.1 762.3L1071.1 760.3L1074.8 768.5L1078.1 777.9L1081.9 772.9L1085.2 737.2L1089.1 743.8L1092.9 754.1L1096.4 744.7L1100.0 748.0L1103.7 736.3L1107.3 733.3L1111.3 720.1L1114.7 731.1L1118.4 741.4L1121.7 745.1L1125.0 751.7L1128.9 737.0L1132.6 733.3L1136.3 729.9L1140.0 728.6L1143.6 723.8L1147.0 724.5L1151.0 704.7L1155.1 691.7L1158.3 703.2L1162.0 720.8L1165.7 727.4L1169.1 723.0L1173.0 732.6L1177.1 739.6L1180.4 715.7L1184.1 717.9L1188.2 714.9L1188.2 670.5L11.1 670.5Z" fill="url(#gg)"/></g>
<g clip-path="url(#c30)"><path d="M11.1 706.8L15.5 667.1L18.8 653.9L22.1 649.4L25.9 666.6L29.4 663.8L33.1 652.1L36.4 670.4L39.8 697.9L44.2 702.3L47.9 706.8L50.8 693.1L55.2 710.1L58.9 706.8L62.9 694.6L66.2 686.5L70.0 701.9L73.5 698.4L77.2 699.0L81.0 701.2L84.5 697.5L88.2 710.1L92.0 724.4L94.9 750.8L99.3 749.7L102.6 746.4L107.0 749.7L112.5 756.3L116.9 776.2L121.3 763.0L124.6 755.2L128.6 746.4L131.7 722.2L135.2 711.8L138.9 724.4L143.3 746.4L146.7 754.1L150.0 760.8L153.9 737.2L157.2 742.0L161.0 748.6L164.3 750.4L167.6 748.6L172.0 763.0L175.3 770.7L179.3 778.8L183.0 740.9L187.0 737.2L190.7 744.2L194.0 751.9L197.3 743.1L201.3 722.2L204.6 716.2L207.9 712.9L211.7 732.5L215.4 720.0L218.9 719.5L222.7 731.0L226.4 731.4L230.0 720.0L233.7 727.0L237.5 721.1L241.4 705.7L245.2 692.4L248.7 696.8L252.5 703.4L256.4 702.3L260.2 699.7L263.5 694.6L267.4 675.5L271.2 671.5L274.5 668.8L277.8 669.9L281.8 663.1L285.1 642.8L288.8 633.6L292.1 682.5L292.2 682.5L296.0 700.1L299.9 694.0L303.7 697.9L307.2 693.1L310.9 706.3L314.7 712.3L318.2 720.0L322.0 731.0L325.3 749.7L329.0 757.0L332.5 748.2L335.8 731.0L340.0 741.6L344.0 732.1L346.9 718.2L350.6 715.6L354.4 710.1L357.9 704.1L361.6 723.3L365.4 696.8L368.9 681.0L372.7 699.0L376.6 713.4L380.4 707.9L384.1 705.7L387.4 722.2L390.9 733.2L394.7 713.4L398.0 727.0L402.0 699.0L405.7 695.3L409.2 693.1L413.0 723.9L416.7 714.5L420.0 704.6L423.8 692.0L427.8 706.3L431.7 710.1L435.5 714.5L439.4 718.9L442.1 702.8L446.1 701.2L449.8 715.6L453.1 713.8L457.1 720.0L460.8 711.2L464.1 699.7L467.4 695.7L470.7 686.9L474.7 680.7L478.5 667.1L482.2 667.1L485.7 673.3L490.1 686.5L493.9 681.4L497.6 673.3L500.9 670.4L503.8 692.0L507.5 691.3L511.5 698.6L514.8 729.9L518.8 742.0L522.5 744.2L525.8 769.6L529.8 746.4L533.6 748.2L536.9 736.1L541.3 732.8L545.0 738.7L548.3 718.2L551.8 700.6L555.6 704.1L558.9 712.3L562.6 711.2L566.0 706.3L569.5 726.6L573.9 713.8L576.5 726.6L580.9 765.2L584.9 774.6L585.0 774.6L588.3 746.4L592.0 732.8L596.0 738.7L599.8 748.6L603.5 756.3L607.0 758.6L610.3 750.4L614.1 749.7L618.0 747.5L621.8 753.0L625.1 758.6L629.1 739.8L632.4 736.5L636.1 736.1L640.1 725.5L643.4 727.7L647.1 735.8L650.9 736.5L654.2 750.8L658.2 745.3L661.5 746.0L665.2 743.8L668.5 774.0L672.0 786.1L675.8 770.2L679.5 777.3L683.1 764.1L686.8 768.5L690.6 755.9L694.1 749.7L697.8 765.8L701.6 767.4L705.1 777.3L708.9 781.7L712.8 781.3L716.6 785.0L720.3 791.0L723.8 767.4L727.6 772.4L730.9 775.5L734.9 781.3L738.2 783.5L741.9 775.1L745.2 754.8L749.0 753.0L752.9 743.1L756.9 748.6L760.7 754.6L764.0 756.8L767.7 762.3L771.0 773.3L774.5 741.6L778.3 727.0L782.0 737.6L786.0 748.2L789.7 750.8L793.3 751.3L797.0 747.5L800.3 735.4L804.1 738.7L807.6 738.3L811.3 749.1L815.1 746.0L818.6 754.6L822.4 758.6L825.7 754.1L829.4 766.3L832.9 775.5L836.7 750.8L840.4 751.5L844.0 750.8L848.2 751.5L851.7 756.3L855.4 760.1L859.2 767.4L862.7 755.2L866.1 746.4L869.8 743.8L873.1 750.8L876.9 742.5L880.9 743.8L884.2 731.0L887.9 711.2L891.4 707.9L895.2 704.1L898.9 691.3L902.9 681.0L906.2 705.0L910.0 699.0L913.9 709.6L917.2 710.1L921.0 696.4L924.3 699.0L928.2 679.9L932.0 676.3L935.3 698.6L938.8 691.3L942.6 696.8L946.3 724.4L949.8 739.8L953.6 760.8L957.3 746.0L961.3 748.6L964.6 751.5L968.6 753.0L971.9 774.6L975.6 755.2L979.4 742.0L982.9 746.4L986.7 765.8L990.0 766.7L993.7 789.4L997.7 796.0L1001.0 781.3L1004.9 791.6L1008.7 799.3L1012.4 813.0L1016.4 785.0L1019.7 784.6L1023.5 785.0L1027.0 785.4L1030.7 791.6L1034.5 796.0L1038.0 797.1L1041.3 775.1L1045.1 762.3L1049.0 765.8L1052.8 765.2L1056.1 768.0L1060.1 775.5L1063.4 771.3L1067.1 762.3L1071.1 760.3L1074.8 768.5L1078.1 777.9L1081.9 772.9L1085.2 737.2L1089.1 743.8L1092.9 754.1L1096.4 744.7L1100.0 748.0L1103.7 736.3L1107.3 733.3L1111.3 720.1L1114.7 731.1L1118.4 741.4L1121.7 745.1L1125.0 751.7L1128.9 737.0L1132.6 733.3L1136.3 729.9L1140.0 728.6L1143.6 723.8L1147.0 724.5L1151.0 704.7L1155.1 691.7L1158.3 703.2L1162.0 720.8L1165.7 727.4L1169.1 723.0L1173.0 732.6L1177.1 739.6L1180.4 715.7L1184.1 717.9L1188.2 714.9L1188.2 784.1L11.1 784.1Z" fill="url(#gr)"/></g>
<line x1="10" y1="670.5" x2="1289" y2="670.5" stroke="#787b86" stroke-width="1" stroke-dasharray="5 6"/>
<line x1="10" y1="784.5" x2="1289" y2="784.5" stroke="#787b86" stroke-width="1" stroke-dasharray="5 6"/>
<line x1="10" y1="727.5" x2="1289" y2="727.5" stroke="#787b86" stroke-opacity="0.5" stroke-width="1" stroke-dasharray="5 6"/>
<path d="M10.0 699.7C11.5 698.7 15.9 695.7 18.8 694.0C21.8 692.2 24.7 691.0 27.6 689.1C30.6 687.3 33.5 683.8 36.4 683.0C39.4 682.1 42.3 684.4 45.3 684.3C48.2 684.1 51.1 682.4 54.1 682.1C57.0 681.7 60.5 681.6 62.9 682.1C65.3 682.5 66.6 683.4 68.4 684.7C70.2 686.1 71.5 688.2 73.9 690.2C76.3 692.2 79.8 694.8 82.7 696.8C85.7 698.9 88.6 700.0 91.6 702.3C94.5 704.7 97.4 708.4 100.4 711.2C103.3 713.9 106.2 715.6 109.2 718.9C112.1 722.1 115.1 726.9 118.0 730.6C120.9 734.2 123.9 738.6 126.8 740.9C129.8 743.3 132.7 743.7 135.6 744.7C138.6 745.7 141.9 746.5 144.5 746.9C147.0 747.3 148.5 747.3 151.1 747.1C153.6 746.8 156.9 746.0 159.9 745.3C162.8 744.7 166.1 743.2 168.7 743.1C171.3 743.0 172.7 743.7 175.3 744.7C177.9 745.7 181.2 747.9 184.1 749.1C187.1 750.3 190.0 752.1 192.9 751.9C195.9 751.8 198.8 749.5 201.8 748.2C204.7 746.9 207.6 745.7 210.6 744.2C213.5 742.8 216.5 741.2 219.4 739.4C222.3 737.5 225.6 735.0 228.2 733.2C230.8 731.4 232.6 730.3 234.8 728.8C237.0 727.3 238.9 726.2 241.4 724.4C244.0 722.6 247.3 719.4 250.2 717.8C253.2 716.1 256.1 716.1 259.1 714.5C262.0 712.8 264.9 710.6 267.9 707.9C270.8 705.1 274.1 700.9 276.7 697.9C279.3 695.0 281.3 693.2 283.3 690.2C285.3 687.3 287.0 682.1 288.8 680.3C290.7 678.5 292.7 679.4 294.3 679.2C296.0 679.0 296.6 679.4 298.8 679.2C301.0 679.0 305.1 677.9 307.6 678.1C310.2 678.3 311.9 678.8 314.2 680.3C316.6 681.8 319.2 683.2 322.0 686.9C324.7 690.6 327.8 697.0 330.8 702.3C333.7 707.7 336.8 715.2 339.6 718.9C342.3 722.6 344.7 723.2 347.3 724.4C349.9 725.6 352.4 725.6 355.0 726.2C357.6 726.7 360.2 728.4 362.7 727.7C365.3 727.0 367.9 724.0 370.4 722.2C373.0 720.3 375.8 718.3 378.2 716.7C380.6 715.0 382.2 713.3 384.8 712.3C387.3 711.3 390.7 711.3 393.6 710.7C396.5 710.2 399.7 709.4 402.4 709.0C405.2 708.5 407.2 707.6 410.1 707.9C413.1 708.2 416.9 710.4 420.0 710.7C423.2 711.1 425.9 710.1 428.9 710.1C431.8 710.1 435.1 711.1 437.7 710.7C440.2 710.4 442.3 708.5 444.3 707.9C446.3 707.2 447.2 706.4 449.8 706.8C452.4 707.1 456.6 710.1 459.7 710.1C462.8 710.1 465.8 707.7 468.5 706.8C471.3 705.8 473.7 706.0 476.2 704.6C478.8 703.1 481.2 700.0 484.0 697.9C486.7 695.9 490.2 694.0 492.8 692.4C495.3 690.9 497.2 690.0 499.4 688.7C501.6 687.3 504.0 685.2 506.0 684.3C508.0 683.4 509.7 682.7 511.5 683.2C513.3 683.6 515.2 685.4 517.0 686.9C518.9 688.5 520.7 689.9 522.5 692.4C524.4 695.0 525.7 698.5 528.0 702.3C530.4 706.2 533.9 712.1 536.9 715.6C539.8 719.1 542.7 721.2 545.7 723.3C548.6 725.4 551.7 727.1 554.5 728.4C557.2 729.6 559.6 731.1 562.2 731.0C564.8 730.9 567.5 728.9 569.9 727.7C572.3 726.5 574.1 724.1 576.5 723.9C578.9 723.8 582.6 726.2 584.2 726.6C585.9 727.0 584.5 726.5 586.5 726.6C588.6 726.7 593.7 726.2 596.4 727.3C599.2 728.4 600.7 730.9 603.1 733.2C605.4 735.5 608.0 738.6 610.8 740.9C613.5 743.2 616.7 745.1 619.6 746.9C622.5 748.6 625.7 751.6 628.4 751.5C631.2 751.4 633.4 747.6 636.1 746.4C638.9 745.3 642.0 745.1 644.9 744.7C647.9 744.2 650.4 744.0 653.8 743.6C657.1 743.1 661.5 741.5 664.8 742.0C668.1 742.5 670.7 745.0 673.6 746.4C676.5 747.9 679.5 749.2 682.4 750.8C685.3 752.5 688.3 754.6 691.2 756.3C694.2 758.1 697.1 759.6 700.0 761.4C703.0 763.3 706.1 765.5 708.9 767.4C711.6 769.3 714.0 772.1 716.6 772.9C719.1 773.6 721.9 772.0 724.3 771.8C726.7 771.6 728.3 771.3 730.9 771.8C733.5 772.3 737.1 774.0 739.7 774.6C742.3 775.3 744.1 775.8 746.3 775.5C748.5 775.2 750.4 774.1 752.9 772.9C755.5 771.6 758.8 769.5 761.8 768.0C764.7 766.6 767.6 765.8 770.6 764.1C773.5 762.3 776.5 759.5 779.4 757.5C782.3 755.4 785.3 753.3 788.2 751.9C791.1 750.6 794.1 749.9 797.0 749.3C800.0 748.7 802.9 748.7 805.8 748.2C808.8 747.7 811.7 747.0 814.7 746.4C817.6 745.8 820.5 743.9 823.5 744.7C826.4 745.4 829.3 749.6 832.3 750.8C835.2 752.1 838.2 751.8 841.1 751.9C844.0 752.1 847.3 751.4 849.9 751.9C852.5 752.5 854.3 754.3 856.5 755.2C858.7 756.2 862.0 757.1 863.1 757.5C864.3 757.8 861.7 757.6 863.2 757.5C864.7 757.3 869.1 757.0 872.0 756.3C875.0 755.7 877.9 755.1 880.9 753.5C883.8 751.8 886.7 749.3 889.7 746.4C892.6 743.6 895.6 740.0 898.5 736.5C901.4 733.0 904.4 728.8 907.3 725.5C910.2 722.2 913.2 719.6 916.1 716.7C919.1 713.7 922.4 710.6 924.9 707.9C927.5 705.1 929.3 702.2 931.6 700.1C933.8 698.1 936.1 696.5 938.2 695.7C940.2 695.0 941.8 695.0 943.7 695.7C945.5 696.5 947.2 698.1 949.2 700.1C951.2 702.2 953.2 705.3 955.8 707.9C958.4 710.4 961.7 712.6 964.6 715.6C967.6 718.5 970.5 721.8 973.4 725.5C976.4 729.2 979.3 733.6 982.2 737.6C985.2 741.7 988.1 745.9 991.1 749.7C994.0 753.6 997.3 758.0 999.9 760.8C1002.5 763.5 1004.3 764.1 1006.5 766.3C1008.7 768.4 1010.9 771.7 1013.1 773.5C1015.3 775.4 1017.5 776.1 1019.7 777.3C1021.9 778.5 1024.1 778.9 1026.3 780.6C1028.5 782.2 1030.7 785.5 1032.9 787.2C1035.1 788.9 1037.0 791.0 1039.6 791.0C1042.1 791.0 1045.4 788.6 1048.4 787.2C1051.3 785.8 1054.2 784.5 1057.2 782.8C1060.1 781.1 1063.1 778.8 1066.0 777.3C1068.9 775.8 1072.2 774.9 1074.8 774.0C1077.4 773.1 1079.2 773.2 1081.4 771.8C1083.6 770.3 1085.5 766.9 1088.0 765.2C1090.6 763.4 1094.9 762.2 1096.9 761.4C1098.9 760.6 1098.5 761.4 1100.0 760.5C1101.5 759.6 1103.7 757.9 1105.9 756.1C1108.1 754.3 1110.8 751.1 1113.2 749.5C1115.7 747.9 1118.4 747.5 1120.6 746.5C1122.8 745.6 1124.5 744.7 1126.5 743.6C1128.4 742.5 1130.1 740.8 1132.3 739.9C1134.5 739.0 1137.2 739.1 1139.7 738.2C1142.1 737.2 1144.8 735.5 1147.0 734.0C1149.2 732.6 1150.9 731.0 1152.9 729.6C1154.9 728.3 1156.8 726.6 1158.8 726.0C1160.7 725.3 1162.7 726.0 1164.7 725.7C1166.6 725.3 1168.6 724.3 1170.5 723.8C1172.5 723.2 1174.5 722.8 1176.4 722.3C1178.4 721.8 1180.3 721.0 1182.3 720.5C1184.3 720.0 1187.2 719.5 1188.2 719.4" stroke="#fdd835" stroke-width="1.3" fill="none"/>
<path d="M11.1 706.8L15.5 667.1L18.8 653.9L22.1 649.4L25.9 666.6L29.4 663.8L33.1 652.1L36.4 670.4L39.8 697.9L44.2 702.3L47.9 706.8L50.8 693.1L55.2 710.1L58.9 706.8L62.9 694.6L66.2 686.5L70.0 701.9L73.5 698.4L77.2 699.0L81.0 701.2L84.5 697.5L88.2 710.1L92.0 724.4L94.9 750.8L99.3 749.7L102.6 746.4L107.0 749.7L112.5 756.3L116.9 776.2L121.3 763.0L124.6 755.2L128.6 746.4L131.7 722.2L135.2 711.8L138.9 724.4L143.3 746.4L146.7 754.1L150.0 760.8L153.9 737.2L157.2 742.0L161.0 748.6L164.3 750.4L167.6 748.6L172.0 763.0L175.3 770.7L179.3 778.8L183.0 740.9L187.0 737.2L190.7 744.2L194.0 751.9L197.3 743.1L201.3 722.2L204.6 716.2L207.9 712.9L211.7 732.5L215.4 720.0L218.9 719.5L222.7 731.0L226.4 731.4L230.0 720.0L233.7 727.0L237.5 721.1L241.4 705.7L245.2 692.4L248.7 696.8L252.5 703.4L256.4 702.3L260.2 699.7L263.5 694.6L267.4 675.5L271.2 671.5L274.5 668.8L277.8 669.9L281.8 663.1L285.1 642.8L288.8 633.6L292.1 682.5L292.2 682.5L296.0 700.1L299.9 694.0L303.7 697.9L307.2 693.1L310.9 706.3L314.7 712.3L318.2 720.0L322.0 731.0L325.3 749.7L329.0 757.0L332.5 748.2L335.8 731.0L340.0 741.6L344.0 732.1L346.9 718.2L350.6 715.6L354.4 710.1L357.9 704.1L361.6 723.3L365.4 696.8L368.9 681.0L372.7 699.0L376.6 713.4L380.4 707.9L384.1 705.7L387.4 722.2L390.9 733.2L394.7 713.4L398.0 727.0L402.0 699.0L405.7 695.3L409.2 693.1L413.0 723.9L416.7 714.5L420.0 704.6L423.8 692.0L427.8 706.3L431.7 710.1L435.5 714.5L439.4 718.9L442.1 702.8L446.1 701.2L449.8 715.6L453.1 713.8L457.1 720.0L460.8 711.2L464.1 699.7L467.4 695.7L470.7 686.9L474.7 680.7L478.5 667.1L482.2 667.1L485.7 673.3L490.1 686.5L493.9 681.4L497.6 673.3L500.9 670.4L503.8 692.0L507.5 691.3L511.5 698.6L514.8 729.9L518.8 742.0L522.5 744.2L525.8 769.6L529.8 746.4L533.6 748.2L536.9 736.1L541.3 732.8L545.0 738.7L548.3 718.2L551.8 700.6L555.6 704.1L558.9 712.3L562.6 711.2L566.0 706.3L569.5 726.6L573.9 713.8L576.5 726.6L580.9 765.2L584.9 774.6L585.0 774.6L588.3 746.4L592.0 732.8L596.0 738.7L599.8 748.6L603.5 756.3L607.0 758.6L610.3 750.4L614.1 749.7L618.0 747.5L621.8 753.0L625.1 758.6L629.1 739.8L632.4 736.5L636.1 736.1L640.1 725.5L643.4 727.7L647.1 735.8L650.9 736.5L654.2 750.8L658.2 745.3L661.5 746.0L665.2 743.8L668.5 774.0L672.0 786.1L675.8 770.2L679.5 777.3L683.1 764.1L686.8 768.5L690.6 755.9L694.1 749.7L697.8 765.8L701.6 767.4L705.1 777.3L708.9 781.7L712.8 781.3L716.6 785.0L720.3 791.0L723.8 767.4L727.6 772.4L730.9 775.5L734.9 781.3L738.2 783.5L741.9 775.1L745.2 754.8L749.0 753.0L752.9 743.1L756.9 748.6L760.7 754.6L764.0 756.8L767.7 762.3L771.0 773.3L774.5 741.6L778.3 727.0L782.0 737.6L786.0 748.2L789.7 750.8L793.3 751.3L797.0 747.5L800.3 735.4L804.1 738.7L807.6 738.3L811.3 749.1L815.1 746.0L818.6 754.6L822.4 758.6L825.7 754.1L829.4 766.3L832.9 775.5L836.7 750.8L840.4 751.5L844.0 750.8L848.2 751.5L851.7 756.3L855.4 760.1L859.2 767.4L862.7 755.2L866.1 746.4L869.8 743.8L873.1 750.8L876.9 742.5L880.9 743.8L884.2 731.0L887.9 711.2L891.4 707.9L895.2 704.1L898.9 691.3L902.9 681.0L906.2 705.0L910.0 699.0L913.9 709.6L917.2 710.1L921.0 696.4L924.3 699.0L928.2 679.9L932.0 676.3L935.3 698.6L938.8 691.3L942.6 696.8L946.3 724.4L949.8 739.8L953.6 760.8L957.3 746.0L961.3 748.6L964.6 751.5L968.6 753.0L971.9 774.6L975.6 755.2L979.4 742.0L982.9 746.4L986.7 765.8L990.0 766.7L993.7 789.4L997.7 796.0L1001.0 781.3L1004.9 791.6L1008.7 799.3L1012.4 813.0L1016.4 785.0L1019.7 784.6L1023.5 785.0L1027.0 785.4L1030.7 791.6L1034.5 796.0L1038.0 797.1L1041.3 775.1L1045.1 762.3L1049.0 765.8L1052.8 765.2L1056.1 768.0L1060.1 775.5L1063.4 771.3L1067.1 762.3L1071.1 760.3L1074.8 768.5L1078.1 777.9L1081.9 772.9L1085.2 737.2L1089.1 743.8L1092.9 754.1L1096.4 744.7L1100.0 748.0L1103.7 736.3L1107.3 733.3L1111.3 720.1L1114.7 731.1L1118.4 741.4L1121.7 745.1L1125.0 751.7L1128.9 737.0L1132.6 733.3L1136.3 729.9L1140.0 728.6L1143.6 723.8L1147.0 724.5L1151.0 704.7L1155.1 691.7L1158.3 703.2L1162.0 720.8L1165.7 727.4L1169.1 723.0L1173.0 732.6L1177.1 739.6L1180.4 715.7L1184.1 717.9L1188.2 714.9" stroke="#7e57c2" stroke-width="3" fill="none" stroke-linejoin="round" stroke-linecap="round"/>
</g>
<rect x="9.5" y="26.5" width="1344.5" height="825.5" fill="none" stroke="#f1f1f2" stroke-width="1.6"/>
<line x1="1288.5" y1="27" x2="1288.5" y2="851" stroke="#e2e2e4"/>
<line x1="10" y1="623.5" x2="1354" y2="623.5" stroke="#e0e3eb"/>
<line x1="10" y1="824.5" x2="1354" y2="824.5" stroke="#e2e2e4"/>
<text class="ax" x="1297" y="618" textLength="30" lengthAdjust="spacingAndGlyphs">60.00</text>
<text class="ax" x="1297" y="561" textLength="30" lengthAdjust="spacingAndGlyphs">80.00</text>
<text class="ax" x="1297" y="503" textLength="36" lengthAdjust="spacingAndGlyphs">100.00</text>
<text class="ax" x="1297" y="446" textLength="36" lengthAdjust="spacingAndGlyphs">120.00</text>
<text class="ax" x="1297" y="388" textLength="36" lengthAdjust="spacingAndGlyphs">140.00</text>
<text class="ax" x="1297" y="330" textLength="36" lengthAdjust="spacingAndGlyphs">160.00</text>
<text class="ax" x="1297" y="273" textLength="36" lengthAdjust="spacingAndGlyphs">180.00</text>
<text class="ax" x="1297" y="215" textLength="36" lengthAdjust="spacingAndGlyphs">200.00</text>
<text class="ax" x="1297" y="158" textLength="36" lengthAdjust="spacingAndGlyphs">220.00</text>
<text class="ax" x="1297" y="100" textLength="36" lengthAdjust="spacingAndGlyphs">240.00</text>
<text class="ax" x="1297" y="816" textLength="30" lengthAdjust="spacingAndGlyphs">20.00</text>
<text class="ax" x="1297" y="760" textLength="30" lengthAdjust="spacingAndGlyphs">40.00</text>
<text class="ax" x="1297" y="703" textLength="30" lengthAdjust="spacingAndGlyphs">60.00</text>
<text class="ax" x="1297" y="646" textLength="30" lengthAdjust="spacingAndGlyphs">80.00</text>
<rect x="1292" y="31" width="58.5" height="26" rx="4" fill="#fff" stroke="#f0f0f1" stroke-width="1.2"/>
<text x="1301.5" y="49" textLength="27" lengthAdjust="spacingAndGlyphs">USDT</text>
<text x="103.5" y="841.6" text-anchor="middle">Jun</text>
<text x="212.5" y="841.6" text-anchor="middle">Jul</text>
<text x="325.5" y="841.6" text-anchor="middle">Aug</text>
<text x="439.5" y="841.6" text-anchor="middle">Sep</text>
<text x="548.5" y="841.6" text-anchor="middle">Oct</text>
<text x="661.5" y="841.6" text-anchor="middle">Nov</text>
<text x="771.5" y="841.6" text-anchor="middle">Dec</text>
<text x="884.5" y="841.6" text-anchor="middle" font-weight="bold">2026</text>
<text x="998.5" y="841.6" text-anchor="middle">Feb</text>
<text x="1100.5" y="841.6" text-anchor="middle">Mar</text>
<text x="1213.5" y="841.6" text-anchor="middle">Apr</text>
<path d="M1289 354.8H1336Q1338 354.8 1338 356.8V370.2Q1338 372.2 1336 372.2H1289Z" fill="#0000ff"/>
<text x="1297" y="367.8" textLength="36" lengthAdjust="spacingAndGlyphs" style="fill:#fff;stroke:#fff;stroke-width:0.3px;">147.00</text>
<path d="M1289 441.6H1336Q1338 441.6 1338 443.6V457.0Q1338 459.0 1336 459.0H1289Z" fill="#0000ff"/>
<text x="1297" y="454.6" textLength="36" lengthAdjust="spacingAndGlyphs" style="fill:#fff;stroke:#fff;stroke-width:0.3px;">117.00</text>
<path d="M1289 498H1330Q1332 498 1332 500V513Q1332 515 1330 515H1289Z" fill="#0000ff"/>
<text x="1297" y="510.8" textLength="30" lengthAdjust="spacingAndGlyphs" style="fill:#fff;stroke:#fff;stroke-width:0.3px;">95.00</text>
<path d="M1289 594.5H1330Q1332 594.5 1332 596.5V609Q1332 611 1330 611H1289Z" fill="#0000ff"/>
<text x="1297" y="607" textLength="30" lengthAdjust="spacingAndGlyphs" style="fill:#fff;stroke:#fff;stroke-width:0.3px;">76.00</text>
<path d="M1288 515H1234Q1232 515 1232 517V529.5Q1232 531.5 1234 531.5H1288Z" fill="#26a69a"/>
<text x="1236.5" y="527.8" textLength="47" lengthAdjust="spacingAndGlyphs" style="fill:#fff;stroke:#fff;stroke-width:0.3px;">SOLUSDT</text>
<path d="M1289 515H1347Q1349 515 1349 517V558Q1349 560 1347 560H1289Z" fill="#26a69a"/>
<text x="1297" y="527.8" textLength="30" lengthAdjust="spacingAndGlyphs" style="fill:#fff;stroke:#fff;stroke-width:0.3px;">91.62</text>
<text x="1297" y="541.8" textLength="43" lengthAdjust="spacingAndGlyphs" style="fill:#fff;stroke:#fff;stroke-width:0.3px;">−37.63%</text>
<text x="1297" y="555.8" textLength="46.5" lengthAdjust="spacingAndGlyphs" style="fill:#d4ede9;stroke:#d4ede9;stroke-width:0.3px;">08:15:40</text>
<path d="M1288 560H1259.3Q1257.3 560 1257.3 562V574.7Q1257.3 576.7 1259.3 576.7H1288Z" fill="#2962ff"/>
<text x="1262" y="572.7" textLength="22.5" lengthAdjust="spacingAndGlyphs" style="fill:#fff;stroke:#fff;stroke-width:0.3px;">EMA</text>
<path d="M1289 560H1330Q1332 560 1332 562V574.7Q1332 576.7 1330 576.7H1289Z" fill="#2962ff"/>
<text x="1297" y="572.7" textLength="30" lengthAdjust="spacingAndGlyphs" style="fill:#fff;stroke:#fff;stroke-width:0.3px;">89.18</text>
<path d="M1288 577H1240Q1238 577 1238 579V591.7Q1238 593.7 1240 593.7H1288Z" fill="#f23645"/>
<text x="1243" y="589.7" textLength="41.5" lengthAdjust="spacingAndGlyphs" style="fill:#fff;stroke:#fff;stroke-width:0.3px;">SMA:MA</text>
<path d="M1289 577H1330Q1332 577 1332 579V591.7Q1332 593.7 1330 593.7H1289Z" fill="#f23645"/>
<text x="1297" y="589.7" textLength="30" lengthAdjust="spacingAndGlyphs" style="fill:#fff;stroke:#fff;stroke-width:0.3px;">86.20</text>
<path d="M1287.8 707.2H1265.2Q1263.2 707.2 1263.2 709.2V722Q1263.2 724 1265.2 724H1287.8Z" fill="#7e57c2"/>
<text x="1268" y="719.8" textLength="15.7" lengthAdjust="spacingAndGlyphs" style="fill:#fff;stroke:#fff;stroke-width:0.3px;">RSI</text>
<path d="M1289 707.2H1330Q1332 707.2 1332 709.2V722Q1332 724 1330 724H1289Z" fill="#7e57c2"/>
<text x="1297" y="719.8" textLength="30" lengthAdjust="spacingAndGlyphs" style="fill:#fff;stroke:#fff;stroke-width:0.3px;">54.08</text>
<path d="M1287.8 724.2H1211.2Q1209.2 724.2 1209.2 726.2V739Q1209.2 741 1211.2 741H1287.8Z" fill="#fdd835"/>
<text x="1214" y="736.8" textLength="69.8" lengthAdjust="spacingAndGlyphs" style="fill:#131722;stroke:#131722;stroke-width:0.3px;">RSI-based MA</text>
<path d="M1289 724.2H1330Q1332 724.2 1332 726.2V739Q1332 741 1330 741H1289Z" fill="#fdd835"/>
<text x="1297" y="736.8" textLength="30" lengthAdjust="spacingAndGlyphs" style="fill:#131722;stroke:#131722;stroke-width:0.3px;">52.61</text>
<text x="18" y="46" textLength="160" lengthAdjust="spacingAndGlyphs" style="fill:#131722;stroke:#131722;stroke-width:0.3px;">SOL / TetherUS · 1D · Binance</text>
<text x="186" y="46" style="fill:#131722;stroke:#131722;stroke-width:0.3px;">O</text>
<text x="195" y="46" textLength="28.5" lengthAdjust="spacingAndGlyphs" style="fill:#26a69a;stroke:#26a69a;stroke-width:0.3px;">90.80</text>
<text x="231.4" y="46" style="fill:#131722;stroke:#131722;stroke-width:0.3px;">H</text>
<text x="239.5" y="46" textLength="28.5" lengthAdjust="spacingAndGlyphs" style="fill:#26a69a;stroke:#26a69a;stroke-width:0.3px;">93.47</text>
<text x="276" y="46" style="fill:#131722;stroke:#131722;stroke-width:0.3px;">L</text>
<text x="282" y="46" textLength="28.5" lengthAdjust="spacingAndGlyphs" style="fill:#26a69a;stroke:#26a69a;stroke-width:0.3px;">90.71</text>
<text x="318.6" y="46" style="fill:#131722;stroke:#131722;stroke-width:0.3px;">C</text>
<text x="326.3" y="46" textLength="28.5" lengthAdjust="spacingAndGlyphs" style="fill:#26a69a;stroke:#26a69a;stroke-width:0.3px;">91.62</text>
<text x="363" y="46" textLength="78" lengthAdjust="spacingAndGlyphs" style="fill:#26a69a;stroke:#26a69a;stroke-width:0.3px;">+0.82 (+0.90%)</text>
<text x="18" y="63" textLength="81.5" lengthAdjust="spacingAndGlyphs" style="fill:#131722;stroke:#131722;stroke-width:0.3px;">EMA (20, close)</text>
<text x="107.7" y="63" textLength="29.5" lengthAdjust="spacingAndGlyphs" style="fill:#2962ff;stroke:#2962ff;stroke-width:0.3px;">89.18</text>
<text x="18" y="80" textLength="81.5" lengthAdjust="spacingAndGlyphs" style="fill:#131722;stroke:#131722;stroke-width:0.3px;">SMA (50, close)</text>
<text x="107.7" y="80" textLength="29.5" lengthAdjust="spacingAndGlyphs" style="fill:#f23645;stroke:#f23645;stroke-width:0.3px;">86.20</text>
<text x="18.4" y="643.2" textLength="75.4" lengthAdjust="spacingAndGlyphs" style="fill:#131722;stroke:#131722;stroke-width:0.3px;">RSI (14, close)</text>
<text x="102.1" y="643.2" textLength="28.7" lengthAdjust="spacingAndGlyphs" style="fill:#7e57c2;stroke:#7e57c2;stroke-width:0.3px;">54.08</text>
<text x="138.5" y="643.2" textLength="28.7" lengthAdjust="spacingAndGlyphs" style="fill:#fdd835;stroke:#fdd835;stroke-width:0.3px;">52.61</text>
<circle cx="1188.5" cy="610.4" r="11.6" fill="#fff"/>
<path d="M1191.2 600.95A9.75 9.75 0 1 0 1197.9 607.8" fill="none" stroke="#9c27b0" stroke-width="1.5" stroke-linecap="round"/>
<path d="M1190.9 605.2L1184.3 610.7H1188.3L1185.1 615.9L1192.7 610.1H1188.9Z" fill="#9c27b0"/>
<circle cx="1195.3" cy="603.5" r="2.5" fill="#f23645"/>
<g fill="#101010"><path d="M12.05 874.2H23.85V888.7H18.1V879.8H12.05Z"/><circle cx="29.03" cy="876.93" r="2.86"/><path d="M35.5 874.2H41.9L35.9 888.7H29.1Z"/></g>
<text x="48.9" y="888.7" textLength="120.9" lengthAdjust="spacingAndGlyphs" style="font-size:20.2px;font-weight:bold;fill:#101010;stroke:none">TradingView</text>
</svg></body></html>
